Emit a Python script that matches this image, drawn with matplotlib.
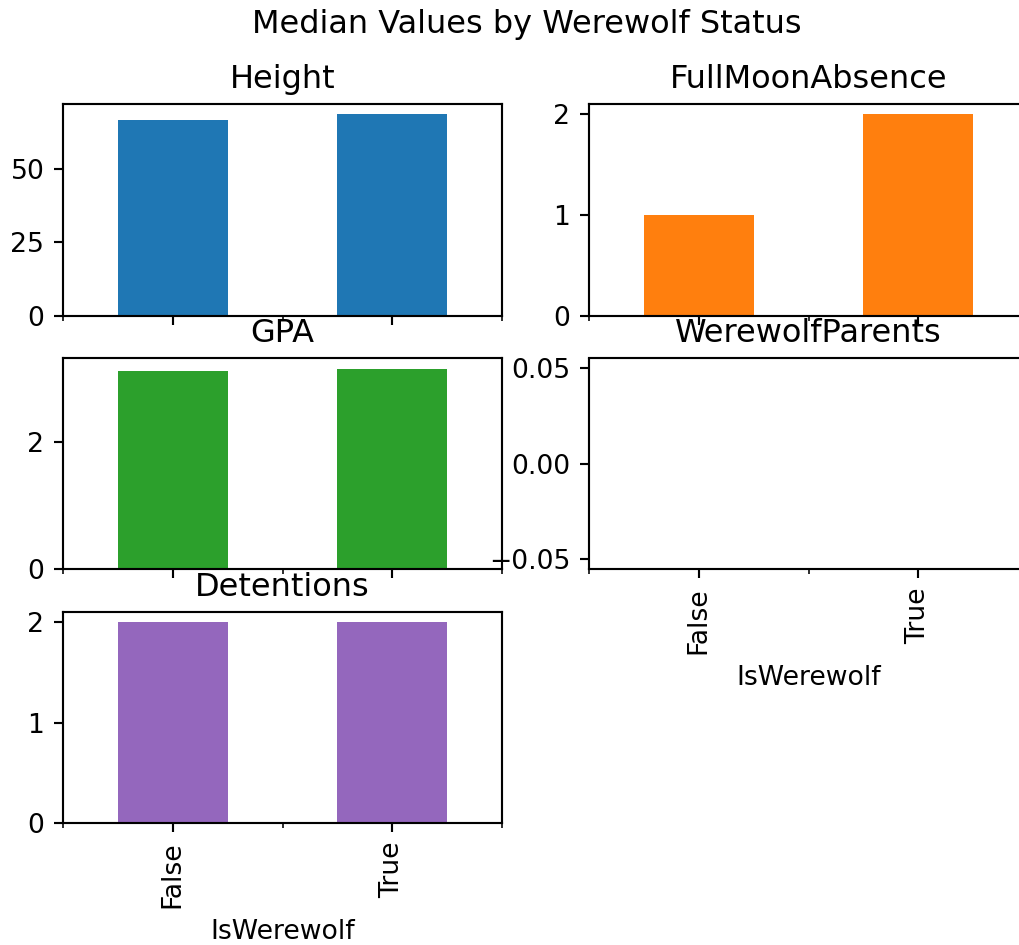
import matplotlib
matplotlib.use("Agg")
import matplotlib.pyplot as plt
from matplotlib.ticker import MultipleLocator, MaxNLocator

# median values per group
groups = ["False", "True"]
columns = ["Height", "FullMoonAbsence", "GPA", "WerewolfParents", "Detentions"]
height = [66.6, 68.4]
full_moon_absence = [1, 2]
gpa = [3.12, 3.16]
werewolf_parents = [0, 0]
detentions = [2, 2]
series = [height, full_moon_absence, gpa, werewolf_parents, detentions]
colors = ["#1f77b4", "#ff7f0e", "#2ca02c", "#d62728", "#9467bd"]

dpi = 192
W, H = 1019, 945
fig = plt.figure(figsize=(W / dpi, H / dpi), dpi=dpi)

# axes boxes in pixels (left, right) / (top, bottom)
col_x = [(63, 502), (589, 1028)]
row_y = [(104.3, 316), (358.5, 569), (612, 823)]

positions = [(0, 0), (0, 1), (1, 0), (1, 1), (2, 0)]
for i, (name, vals, c) in enumerate(zip(columns, series, colors)):
    r, col = positions[i]
    x0, x1 = col_x[col]
    y0, y1 = row_y[r]
    ax = fig.add_axes([x0 / W, 1 - y1 / H, (x1 - x0) / W, (y1 - y0) / H])
    xs = range(len(groups))
    ax.bar(xs, vals, width=0.5, color=c)
    ax.set_xlim(-0.5, len(groups) - 0.5)
    ax.set_xticks(list(xs))
    ax.xaxis.set_minor_locator(MultipleLocator(0.5))
    ax.yaxis.set_major_locator(MaxNLocator(nbins=3, steps=[1, 2, 2.5, 5, 10]))
    ax.set_title(name)
    bottom = (r == 2) or (r == 1 and col == 1)
    if bottom:
        ax.set_xticklabels(groups, rotation=90)
        ax.set_xlabel("IsWerewolf")
    else:
        ax.set_xticklabels([])

fig.suptitle("Median Values by Werewolf Status", x=527 / W, y=1 - 9 / H, va="top")

fig.savefig("out.png", dpi=dpi)
